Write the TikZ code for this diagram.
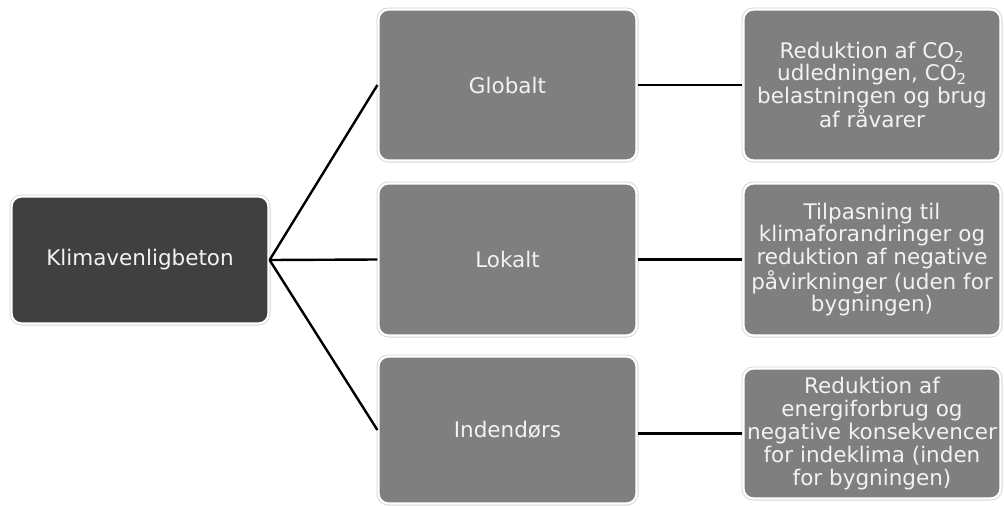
\documentclass[tikz,border=0pt]{standalone}
\usepackage{fontspec}
\setmainfont{DejaVu Sans}
\definecolor{rootgray}{HTML}{404040}
\definecolor{boxgray}{HTML}{7F7F7F}
\definecolor{txtwhite}{HTML}{F2F2F2}
\definecolor{rimgray}{HTML}{D4D4D4}
\begin{document}
\begin{tikzpicture}[x=1pt,y=-1pt,
  box/.style={rectangle, rounded corners=10pt, fill=boxgray, draw=white, line width=2.2pt,
    preaction={draw=rimgray, line width=4pt},
    text=txtwhite, align=center, inner sep=2pt,
    font=\fontsize{21.5}{22.8}\selectfont},
  rootbox/.style={box, fill=rootgray},
  link/.style={draw=black, line width=2.4pt}]
\useasboundingbox (0,0) rectangle (1004,506);
\node[rootbox, minimum width=257pt, minimum height=127pt] (root) at (140,260) {Klimavenligbeton};
\node[box, minimum width=258pt, minimum height=151pt] (glob) at (507.5,85) {Globalt};
\node[box, minimum width=258pt, minimum height=152pt] (lok) at (507.5,259.5) {Lokalt};
\node[box, minimum width=258pt, minimum height=147pt] (ind) at (507.5,430) {Indendørs};
\node[box, minimum width=257pt, minimum height=151pt] (rglob) at (872,85)
  {Reduktion af CO\textsubscript{2}\\udledningen, CO\textsubscript{2}\\belastningen og brug\\af råvarer};
\node[box, minimum width=257pt, minimum height=152pt] (rlok) at (872,259.5)
  {Tilpasning til\\klimaforandringer og\\reduktion af negative\\påvirkninger (uden for\\bygningen)};
\node[box, minimum width=257pt, minimum height=130pt] (rind) at (872,433.5)
  {Reduktion af\\energiforbrug og\\negative konsekvencer\\for indeklima (inden\\for bygningen)};
\draw[link] (root.east) -- (glob.west);
\draw[link] (root.east) -- (lok.west);
\draw[link] (root.east) -- (ind.west);
\draw[link] (glob.east) -- (rglob.west);
\draw[link] (lok.east) -- (rlok.west);
\draw[link] (rind.west -| ind.east) -- (rind.west);
\end{tikzpicture}
\end{document}
